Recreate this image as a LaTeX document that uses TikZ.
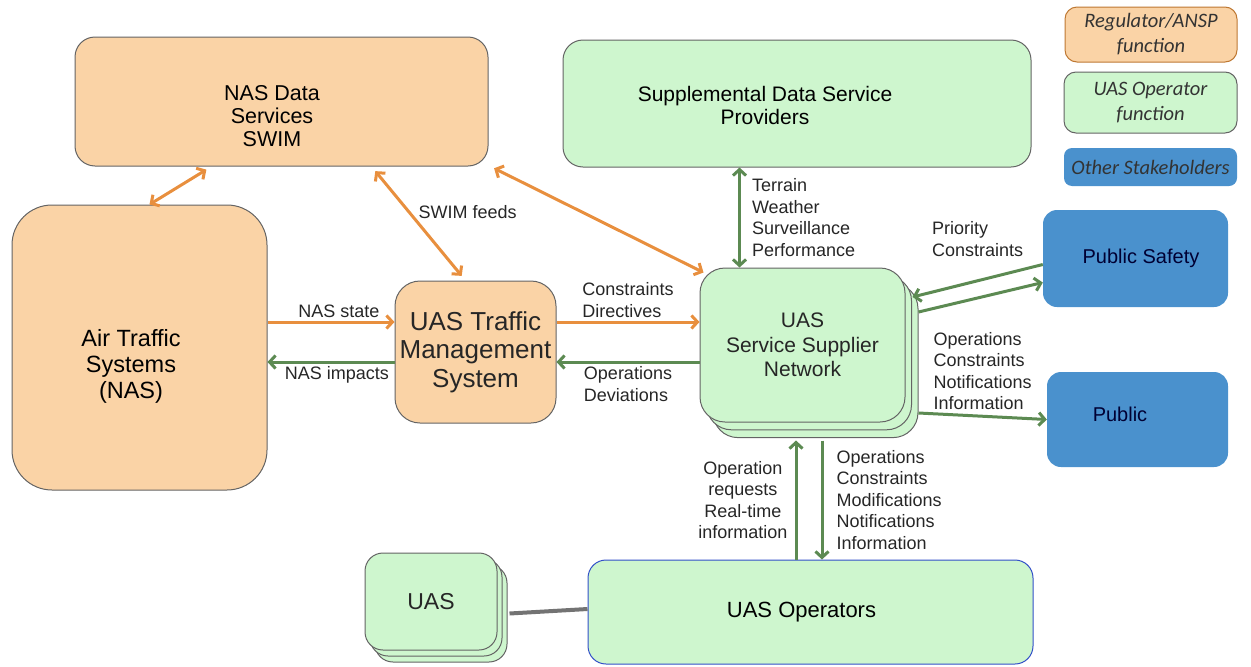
\documentclass[tikz,border=0pt]{standalone}
\usepackage{fontspec}
\setmainfont{Liberation Sans}
\newfontfamily\legendfont{Carlito}
\usepackage{tikz}
\usetikzlibrary{arrows.meta}

\definecolor{regfill}{RGB}{250,211,166}
\definecolor{oprfill}{RGB}{206,246,206}
\definecolor{stkfill}{RGB}{74,145,205}
\definecolor{regline}{RGB}{232,143,62}
\definecolor{oprline}{RGB}{92,138,82}
\definecolor{boxline}{RGB}{100,100,100}
\definecolor{opsline}{RGB}{50,80,200}
\definecolor{legline}{RGB}{190,120,50}

\tikzset{
  regbox/.style = {draw=boxline, fill=regfill, line width=1pt, align=center, inner sep=0, text=black!85},
  oprbox/.style = {draw=boxline, fill=oprfill, line width=1pt, align=center, inner sep=0, text=black!85},
  stkbox/.style = {fill=stkfill, align=center, inner sep=0, text=black!80!blue},
  stack/.style = {
    preaction={draw=boxline, fill=oprfill, line width=1pt, transform canvas={shift={(#1*2,-#1*2.4)}}},
    preaction={draw=boxline, fill=oprfill, line width=1pt, transform canvas={shift={(#1,-#1*1.2)}}}},
  legtext/.style = {font=\legendfont\itshape\fontsize{20.5}{25}\selectfont, align=center, text=black!80},
  lbl/.style = {font=\fontsize{18}{21.5}\selectfont, inner sep=3pt, text=black!85},
  orarrow/.style = {draw=regline, line width=3pt, >={Straight Barb[length=6pt,width=13pt]}},
  grarrow/.style = {draw=oprline, line width=3pt, >={Straight Barb[length=6pt,width=13pt]}}
}

\begin{document}
\begin{tikzpicture}[x=1pt, y=-1pt]
\useasboundingbox (0,0) rectangle (1251,667);

% legend
\node[regbox, draw=legline, minimum width=172, minimum height=55, rounded corners=12, legtext] at (1151,34.5) (legreg) {Regulator/ANSP\\function};
\node[oprbox, minimum width=173, minimum height=61, rounded corners=12, legtext] at (1150.5,102.5) (legopr) {UAS Operator\\function};
\node[stkbox, minimum width=173, minimum height=38, rounded corners=8, legtext] at (1150.5,167) (legstk) {Other Stakeholders};

% regulator / ANSP side
\node[regbox, minimum width=413, minimum height=129, rounded corners=20,
  label={[font=\fontsize{21.5}{23}\selectfont, align=center, xshift=-9.5pt, yshift=-15pt]center:{NAS Data\\Services\\SWIM}}] at (281.5,101.5) (nasdata) {};
\node[regbox, minimum width=255, minimum height=285, rounded corners=40,
  label={[font=\fontsize{23.5}{26}\selectfont, align=center, xshift=-8.5pt, yshift=-18.5pt]center:{Air Traffic\\Systems\\(NAS)}}] at (139.5,347.5) (ats) {};
\node[regbox, minimum width=161, minimum height=142, rounded corners=25, font=\fontsize{26}{28.5}\selectfont] at (475.5,352) (utm) {UAS Traffic\\Management\\System};

% operator side
\node[oprbox, minimum width=468, minimum height=127, rounded corners=20,
  label={[font=\fontsize{21}{23.5}\selectfont, align=center, xshift=-32pt, yshift=-2pt]center:{Supplemental Data Service\\Providers}}] at (797,103.5) (sdsp) {};
\node[oprbox, stack=6.5pt, minimum width=205, minimum height=154, rounded corners=25, font=\fontsize{21}{24.5}\selectfont] at (802.5,345) (uss) {UAS\\Service Supplier\\Network};
\node[oprbox, draw=opsline, minimum width=445, minimum height=104, rounded corners=18,
  label={[font=\fontsize{22}{26}\selectfont, xshift=-9pt]center:UAS Operators}] at (810.5,612) (uasops) {};
\node[oprbox, stack=5pt, minimum width=132, minimum height=97, rounded corners=18, font=\fontsize{23}{26}\selectfont] at (431,601.5) (uas) {UAS};

% other stakeholders
\node[stkbox, minimum width=185, minimum height=97, rounded corners=14,
  label={[font=\fontsize{20}{24}\selectfont, text=black!80!blue, xshift=5.5pt]center:Public Safety}] at (1135.5,258.5) (pubsafety) {};
\node[stkbox, minimum width=181, minimum height=95, rounded corners=14,
  label={[font=\fontsize{20}{24}\selectfont, text=black!80!blue, xshift=-17.5pt, yshift=5.5pt]center:Public}] at (1137.5,419.5) (public) {};

% ports
\coordinate (nasin) at ([yshift=30]utm.west);
\coordinate (nasback) at ([yshift=-10]utm.west);
\coordinate (utmout) at ([yshift=30]utm.east);
\coordinate (utmback) at ([yshift=-10]utm.east);
\coordinate (usstop) at ([xshift=40]uss.north west);
\coordinate (ussbot) at ([yshift=-18]uss.south);
\coordinate (opsleft) at ([xshift=-14.5]uasops.north);
\coordinate (opsright) at ([xshift=11.5]uasops.north);

\path[orarrow]
    ([xshift=10]ats.north) edge[<->, shorten >=6pt] ([xshift=-70]nasdata.south)
    ([xshift=90]nasdata.south) edge[<->, shorten <=6pt, shorten >=6pt] node[lbl, pos=0.4, right=5pt] {SWIM feeds} ([xshift=-10]utm.north)
    ([xshift=2]nasdata.south east) edge[<->, shorten <=4pt] ([xshift=4, yshift=-5]uss.north west)
    (ats.east |- nasin) edge[->] node[lbl, above, xshift=8pt] {NAS state} (nasin)
    (utmout) edge[->] node[lbl, above, align=left] {Constraints\\Directives} (utmout -| uss.west);

\path[grarrow]
    (nasback) edge[->] node[lbl, below, xshift=6pt] {NAS impacts} (nasback -| ats.east)
    (utmback -| uss.west) edge[->] node[lbl, below, align=left] {Operations\\Deviations} (utmback)
    (usstop |- sdsp.south) edge[<->] node[lbl, right=8pt, align=left] {Terrain\\Weather\\Surveillance\\Performance} (usstop)
    ([yshift=-6]pubsafety.west) edge[->] node[lbl, above=20pt, align=left] {Priority\\Constraints} ([xshift=7, yshift=48]uss.east)
    ([xshift=13, yshift=33]uss.east) edge[->] ([yshift=-24]pubsafety.west)
    ([xshift=13, yshift=-68]uss.east) edge[->] node[lbl, above=2pt, align=left] {Operations\\Constraints\\Notifications\\Information} (public.west)
    (opsleft) edge[->] node[lbl, left=4pt, align=center] {Operation\\requests\\Real-time\\information} (opsleft |- ussbot)
    (opsright |- ussbot) edge[->] node[lbl, right=10pt, align=left] {Operations\\Constraints\\Modifications\\Notifications\\Information} (opsright);

\draw[black!55, line width=4pt] ([xshift=12, yshift=-12]uas.east) -- ([yshift=3]uasops.west);

\end{tikzpicture}
\end{document}
